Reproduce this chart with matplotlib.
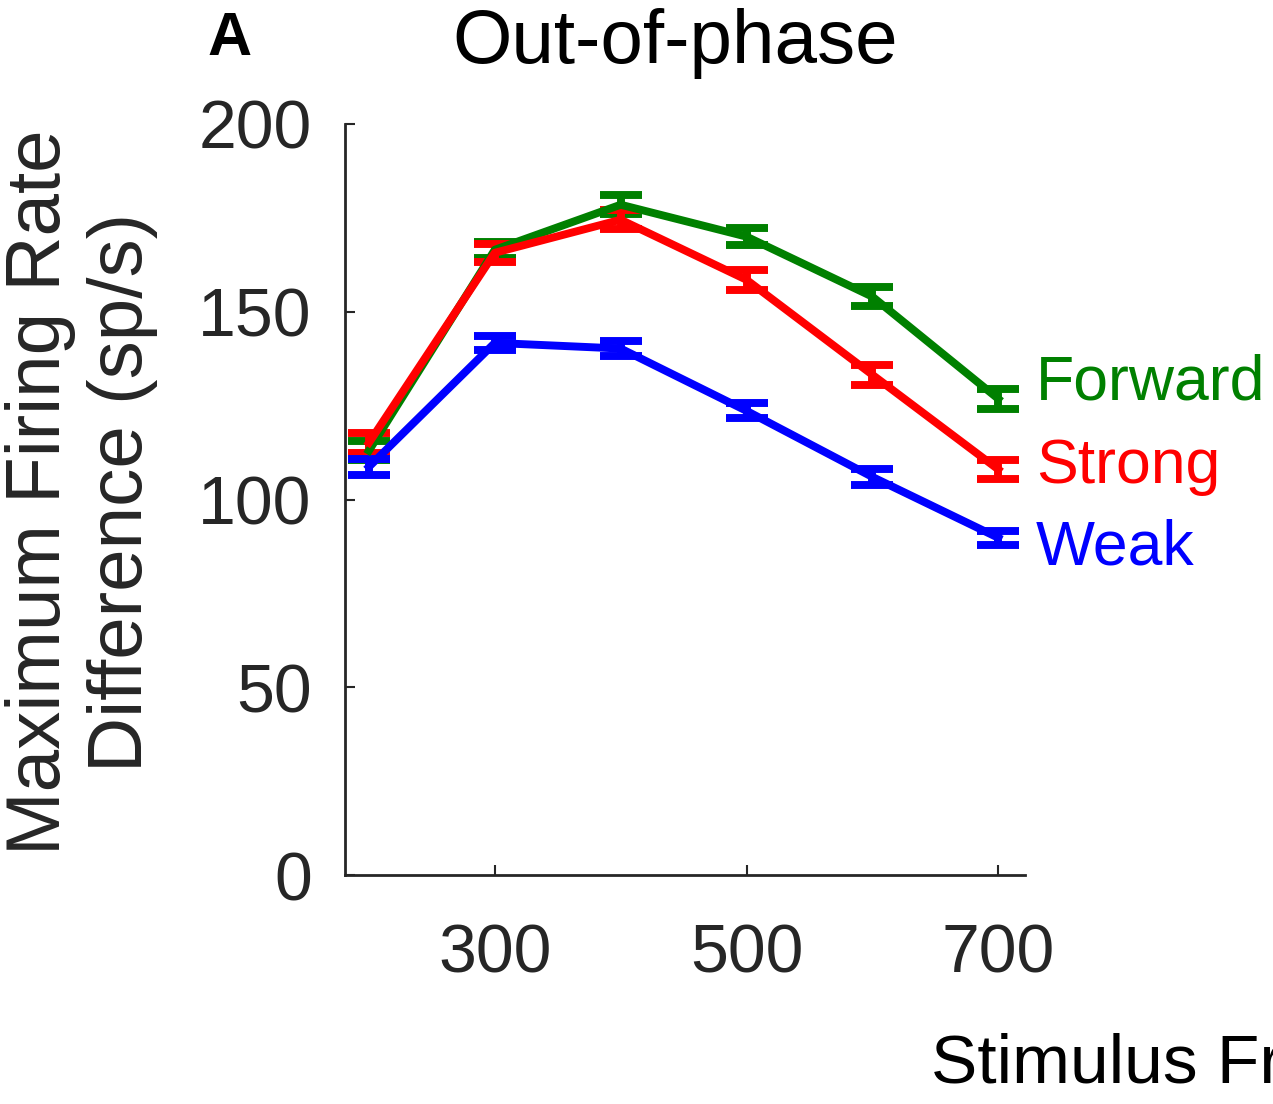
import matplotlib
matplotlib.use("Agg")
import matplotlib.pyplot as plt

freq = [200, 300, 400, 500, 600, 700]
forward = [113.0, 166.5, 178.5, 170.0, 154.0, 126.8]
forward_err = [2.6, 2.2, 2.5, 2.2, 2.6, 2.6]
strong = [115.1, 165.7, 174.5, 158.5, 133.2, 108.0]
strong_err = [2.6, 2.4, 2.5, 2.6, 2.6, 2.6]
weak = [108.7, 141.7, 140.2, 123.6, 106.0, 89.8]
weak_err = [2.2, 1.9, 1.9, 2.0, 2.2, 1.8]

series = [("Forward", forward, forward_err, "#008000", 131.0),
          ("Strong", strong, strong_err, "#ff0000", 108.7),
          ("Weak", weak, weak_err, "#0000ff", 87.0)]

plt.rcParams['font.family'] = ['Liberation Sans', 'DejaVu Sans']
fig = plt.figure(figsize=(12.73, 11.04), dpi=100)
ax = fig.add_axes([0.271, 0.2074, 0.534, 0.6803])

for name, vals, err, col, ly in series:
    ax.errorbar(freq, vals, yerr=err, color=col, lw=5.7, capsize=15, capthick=5.7,
                elinewidth=5.7)
for name, vals, err, col, ly in series:
    ax.text(730, ly, name, color=col, fontsize=45, va='center', ha='left', clip_on=False)

ax.set_xlim(181, 721)
ax.set_ylim(0, 200)
ax.set_xticks([300, 500, 700])
ax.set_yticks([0, 50, 100, 150, 200])
for s in ['top', 'right']:
    ax.spines[s].set_visible(False)
for s in ['left', 'bottom']:
    ax.spines[s].set_linewidth(2)
    ax.spines[s].set_color('#262626')
ax.tick_params(direction='in', length=7, width=1.5, colors='#262626', labelsize=49)
ax.tick_params(axis='x', pad=34)
ax.tick_params(axis='y', pad=24)

fig.text(82 / 1273, 1 - 492 / 1104, "Maximum Firing Rate\nDifference (sp/s)",
         fontsize=55, color='#262626', rotation=90, ha='center', va='center',
         multialignment='center', linespacing=1.2)
fig.text(675 / 1273, 1 - 63 / 1104, "Out-of-phase", fontsize=55, ha='center',
         va='baseline', color='black')
fig.text(230 / 1273, 1 - 55 / 1104, "A", fontsize=44, weight='bold', ha='center',
         va='baseline')
fig.text(931 / 1273, 1 - 1083 / 1104, "Stimulus Frequency (Hz)", fontsize=50,
         ha='left', va='baseline', color='black')

fig.savefig("out.png", dpi=100)
